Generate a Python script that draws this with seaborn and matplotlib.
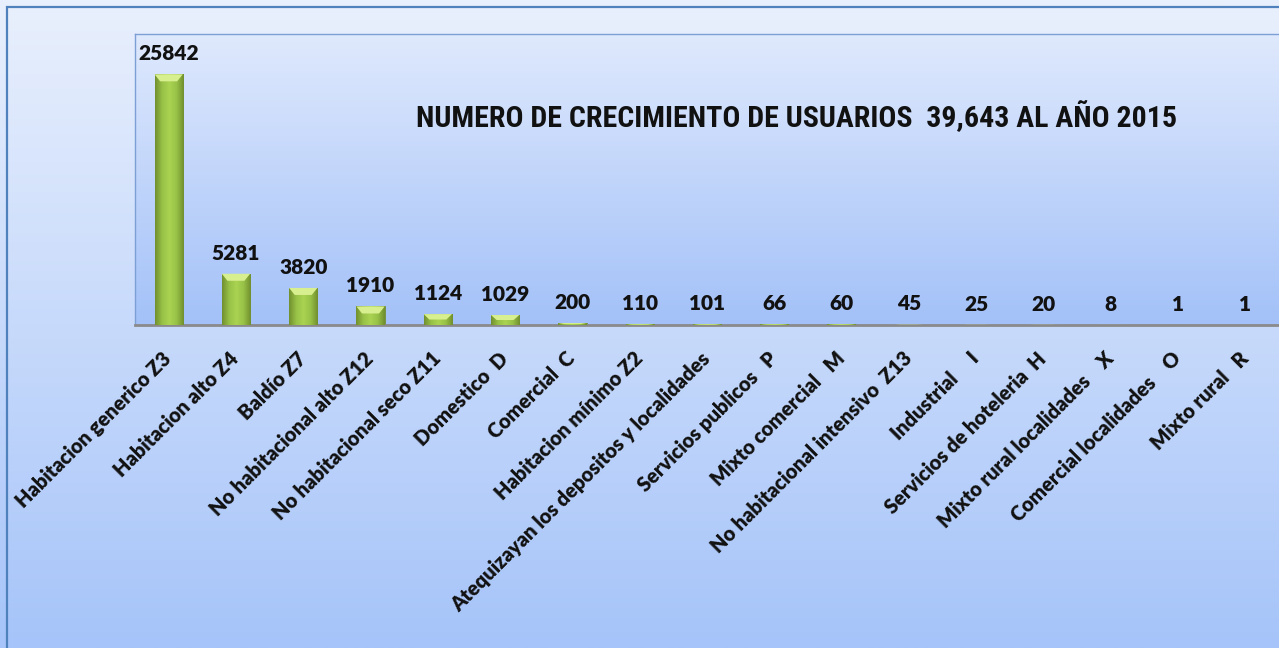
import numpy as np
import matplotlib
matplotlib.use("Agg")
import matplotlib.pyplot as plt
import seaborn as sns
from matplotlib.patches import Rectangle, Polygon
from matplotlib.colors import LinearSegmentedColormap
from matplotlib.transforms import ScaledTranslation

# data
categorias = [
    "Habitacion generico Z3", "Habitacion alto Z4", "Baldío Z7",
    "No habitacional alto Z12", "No habitacional seco Z11", "Domestico  D",
    "Comercial  C", "Habitacion mínimo Z2",
    "Atequizayan los depositos y localidades", "Servicios publicos   P",
    "Mixto comercial   M", "No habitacional intensivo  Z13",
    "Industrial     I", "Servicios de hoteleria  H",
    "Mixto rural localidades    X", "Comercial localidades    O",
    "Mixto rural   R",
]
usuarios = [25842, 5281, 3820, 1910, 1124, 1029, 200, 110, 101, 66, 60, 45,
            25, 20, 8, 1, 1]
titulo = "NUMERO DE CRECIMIENTO DE USUARIOS  39,643 AL AÑO 2015"

sns.set_theme(style="white")
plt.rcParams["font.family"] = ["Lato", "DejaVu Sans"]

W, H = 1279, 648
fig = plt.figure(figsize=(W / 100, H / 100), dpi=100)

# figure background gradient (light at top, blue at bottom)
bg = fig.add_axes([0, 0, 1, 1], zorder=-10)
bg_cmap = LinearSegmentedColormap.from_list("bg", ["#e9f0fd", "#a6c4f9"])
bg.imshow(np.linspace(0, 1, 256)[:, None], cmap=bg_cmap, aspect="auto",
          extent=[0, 1, 0, 1], origin="upper")
bg.set_xlim(0, 1)
bg.set_ylim(0, 1)
bg.axis("off")
bg.add_patch(Rectangle((7 / W, -0.2), 1.2, 1.2 - 7 / H, fill=False,
                       edgecolor="#4f81bd", lw=1.6))

# plot area
ax = fig.add_axes([135 / W, 1 - 325 / H, 1144 / W, 291 / H])
ax.set_facecolor("none")
area_cmap = LinearSegmentedColormap.from_list("area", ["#dfe9fd", "#a3c1f8"])
ax.imshow(np.linspace(0, 1, 256)[:, None], cmap=area_cmap, aspect="auto",
          extent=[0, 1, 0, 1], transform=ax.transAxes, zorder=0)

sns.barplot(x=list(range(len(categorias))), y=usuarios, color="#9bbb59",
            width=0.42, ax=ax, zorder=2)
ax.set_xlim(-0.5, len(categorias) - 0.5)
ax.set_ylim(0, 30000)

# 3d-ish shading on the bars
bar_cmap = LinearSegmentedColormap.from_list(
    "bar", ["#718f2f", "#98c247", "#aad352", "#98c247", "#718f2f"])
bevel = 30000 * 7 / 291
for p in ax.patches:
    x0, y0 = p.get_x(), p.get_y()
    w, h = p.get_width(), p.get_height()
    if h <= 0:
        continue
    im = ax.imshow(np.linspace(0, 1, 64)[None, :], cmap=bar_cmap,
                   aspect="auto", extent=[x0, x0 + w, y0, y0 + h], zorder=3)
    im.set_clip_path(p)
    b = min(bevel, h / 2)
    ax.add_patch(Polygon([[x0, h], [x0 + w, h], [x0 + w * 0.8, h - b],
                          [x0 + w * 0.2, h - b]], closed=True,
                         facecolor="#d8ef90", edgecolor="none", zorder=4))
    p.set_edgecolor("#6f8d33")
    p.set_linewidth(0.6)

for c in ax.containers:
    ax.bar_label(c, labels=[str(v) for v in usuarios], padding=8,
                 fontsize=15, fontweight="heavy", color="#111111", zorder=5)

ax.set_xticks(range(len(categorias)))
ax.set_xticklabels(categorias, rotation=45, ha="right",
                   rotation_mode="anchor", fontsize=14.5, fontweight="heavy",
                   color="#111111")
ax.tick_params(axis="x", length=0, pad=17)
shift = ScaledTranslation(-7 / 100, 0, fig.dpi_scale_trans)
for lbl in ax.get_xticklabels():
    lbl.set_transform(lbl.get_transform() + shift)
ax.set_yticks([])
ax.set_xlabel("")
ax.set_ylabel("")

for s in ["left", "top"]:
    ax.spines[s].set_color("#7c9fd6")
    ax.spines[s].set_linewidth(1.0)
ax.spines["right"].set_visible(False)
ax.spines["bottom"].set_color("#8a8a8a")
ax.spines["bottom"].set_linewidth(2.0)

fig.text(797 / W, 1 - 117 / H, titulo, ha="center", va="center",
         fontsize=21.5, fontweight="bold", color="#111111",
         family=["Liberation Sans Narrow", "Roboto Condensed", "Roboto",
                 "DejaVu Sans"])

fig.savefig("out.png", dpi=100)
